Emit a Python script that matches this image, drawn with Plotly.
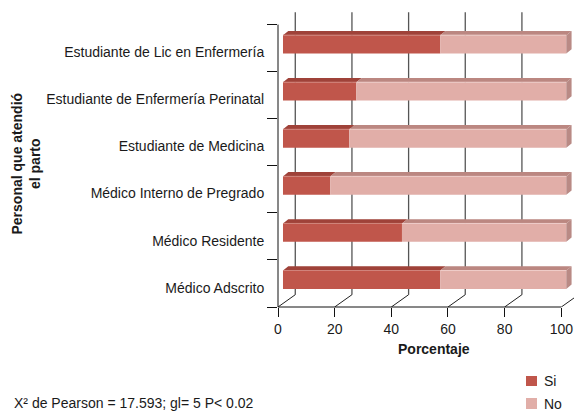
import plotly.graph_objects as go

# ---------------- data ----------------
categories = [
    "Médico Adscrito",
    "Médico Residente",
    "Médico Interno de Pregrado",
    "Estudiante de Medicina",
    "Estudiante de Enfermería Perinatal",
    "Estudiante de Lic en Enfermería",
]
si_values = [55.5, 42.0, 16.7, 23.4, 25.9, 55.5]
no_values = [round(100 - v, 1) for v in si_values]
x_ticks = [0, 20, 40, 60, 80, 100]
series_names = ["Si", "No"]
note_text = "X² de Pearson = 17.593; gl= 5 P< 0.02"

# ---------------- style / geometry ----------------
W_FIG, H_FIG = 574, 414
L, T, R, B = 278, 11, 0, 107
PW, PH = W_FIG - L - R, H_FIG - T - B
XMAX = PW / 2.833
YMAX = PH / 47.07

FONT = "Liberation Sans, Arial, Helvetica, sans-serif"
TXT = "#1a1a1a"
C_SI, C_SI_TOP, C_SI_HI = "#c0564b", "#9f4239", "#d2847b"
C_NO, C_NO_TOP, C_NO_SIDE, C_NO_HI = "#e1aea8", "#bb8781", "#b98a85", "#efcdc9"

WALL_DX, WALL_DY = 6.1, 0.261      # depth of the back wall (data units)
F_DX, F_DY = 1.76, 0.08            # bar front face offset
D_DX, D_DY = 1.87, 0.091           # bar depth
HALF = 0.195                        # half bar height
LABEL_SHIFT = 0.41


def xp(px):
    return (px - L) / PW


def yp(py):
    return (T + PH - py) / PH


n = len(categories)
ypos = [i + 0.5 + F_DY for i in range(n)]
base_si = [F_DX] * n
base_no = [F_DX + s for s in si_values]

fig = go.Figure()

fig.add_trace(go.Bar(
    name=series_names[0], orientation="h", y=ypos, x=si_values, base=base_si,
    width=2 * HALF, marker=dict(color=C_SI, line=dict(width=0)), showlegend=False,
    hoverinfo="skip"))
fig.add_trace(go.Bar(
    name=series_names[1], orientation="h", y=ypos, x=no_values, base=base_no,
    width=2 * HALF, marker=dict(color=C_NO, line=dict(width=0)), showlegend=False,
    hoverinfo="skip"))


def top_face(x0, x1, yc):
    yt = yc + HALF
    return ([x0, x1, x1 + D_DX, x0 + D_DX, x0, None],
            [yt, yt, yt + D_DY, yt + D_DY, yt, None])


def side_face(x1, yc):
    yt, yb = yc + HALF, yc - HALF
    return ([x1, x1, x1 + D_DX, x1 + D_DX, x1, None],
            [yb, yt, yt + D_DY, yb + D_DY, yb, None])


sx, sy, nx, ny, rx, ry = [], [], [], [], [], []
hsx, hsy, hnx, hny = [], [], [], []
for i in range(n):
    a, b = top_face(base_si[i], base_si[i] + si_values[i], ypos[i])
    sx += a; sy += b
    a, b = top_face(base_no[i], base_no[i] + no_values[i], ypos[i])
    nx += a; ny += b
    a, b = side_face(base_no[i] + no_values[i], ypos[i])
    rx += a; ry += b
    yt = ypos[i] + HALF
    hsx += [base_si[i], base_si[i] + si_values[i], None]
    hsy += [yt, yt, None]
    hnx += [base_no[i], base_no[i] + no_values[i], None]
    hny += [yt, yt, None]

for xs, ys, col in [(sx, sy, C_SI_TOP), (nx, ny, C_NO_TOP), (rx, ry, C_NO_SIDE)]:
    fig.add_trace(go.Scatter(x=xs, y=ys, mode="lines", fill="toself", fillcolor=col,
                             line=dict(width=0, color=col), showlegend=False,
                             hoverinfo="skip"))
for xs, ys, col in [(hsx, hsy, C_SI_HI), (hnx, hny, C_NO_HI)]:
    fig.add_trace(go.Scatter(x=xs, y=ys, mode="lines", line=dict(width=1, color=col),
                             showlegend=False, hoverinfo="skip"))

shapes = []
# back wall gridlines and floor diagonals
for t in x_ticks:
    shapes.append(dict(type="line", xref="x", yref="y", x0=t + WALL_DX, x1=t + WALL_DX,
                       y0=WALL_DY, y1=n + WALL_DY, layer="below",
                       line=dict(color="#555555", width=1.3)))
    shapes.append(dict(type="line", xref="x", yref="y", x0=t, x1=t + WALL_DX,
                       y0=0, y1=WALL_DY, layer="below",
                       line=dict(color="#222222", width=1)))
# front axes lines
shapes.append(dict(type="line", xref="paper", yref="paper", x0=0, x1=x_ticks[-1] / XMAX,
                   y0=0, y1=0, line=dict(color="#111111", width=1)))
shapes.append(dict(type="line", xref="paper", yref="paper", x0=0, x1=0,
                   y0=0, y1=n / YMAX, line=dict(color="#111111", width=1)))
# legend swatches
shapes.append(dict(type="rect", xref="paper", yref="paper", x0=xp(526), x1=xp(537),
                   y0=yp(386), y1=yp(376), fillcolor=C_SI, line=dict(width=0)))
shapes.append(dict(type="rect", xref="paper", yref="paper", x0=xp(526), x1=xp(537),
                   y0=yp(409), y1=yp(398), fillcolor=C_NO, line=dict(width=0)))

annotations = [
    dict(text="Personal que atendió<br>el parto", xref="paper", yref="paper",
         x=xp(25.5), y=yp(164), textangle=-90, showarrow=False,
         xanchor="center", yanchor="middle",
         font=dict(family=FONT, size=14, color=TXT, weight="bold")),
    dict(text="Porcentaje", xref="paper", yref="paper", x=xp(434), y=yp(349),
         showarrow=False, xanchor="center", yanchor="middle",
         font=dict(family=FONT, size=14, color=TXT, weight="bold")),
    dict(text=note_text, xref="paper", yref="paper", x=xp(12), y=yp(403),
         showarrow=False, xanchor="left", yanchor="middle",
         font=dict(family=FONT, size=14, color=TXT)),
    dict(text=series_names[0], xref="paper", yref="paper", x=xp(542), y=yp(381),
         showarrow=False, xanchor="left", yanchor="middle",
         font=dict(family=FONT, size=14, color=TXT)),
    dict(text=series_names[1], xref="paper", yref="paper", x=xp(542), y=yp(403.5),
         showarrow=False, xanchor="left", yanchor="middle",
         font=dict(family=FONT, size=14, color=TXT)),
]

fig.update_layout(
    width=W_FIG, height=H_FIG,
    margin=dict(l=L, r=R, t=T, b=B, pad=0),
    paper_bgcolor="white", plot_bgcolor="white",
    barmode="overlay", showlegend=False,
    shapes=shapes, annotations=annotations,
    font=dict(family=FONT, size=14, color=TXT),
    xaxis=dict(range=[0, XMAX], tickmode="array", tickvals=x_ticks,
               ticks="outside", ticklen=9, tickcolor="#111111", tickwidth=1,
               showgrid=False, zeroline=False, showline=False,
               tickfont=dict(family=FONT, size=14, color=TXT), fixedrange=True),
    yaxis=dict(range=[0, YMAX], tickmode="array",
               tickvals=[i + LABEL_SHIFT for i in range(n)], ticktext=categories,
               ticks="outside", ticklen=10, tickcolor="rgba(0,0,0,0)",
               minor=dict(tickmode="array", tickvals=list(range(n + 1)),
                          ticks="outside", ticklen=10, tickcolor="#111111",
                          tickwidth=1, showgrid=False),
               showgrid=False, zeroline=False, showline=False,
               tickfont=dict(family=FONT, size=14, color=TXT), fixedrange=True),
)

fig.write_html("out.html")
